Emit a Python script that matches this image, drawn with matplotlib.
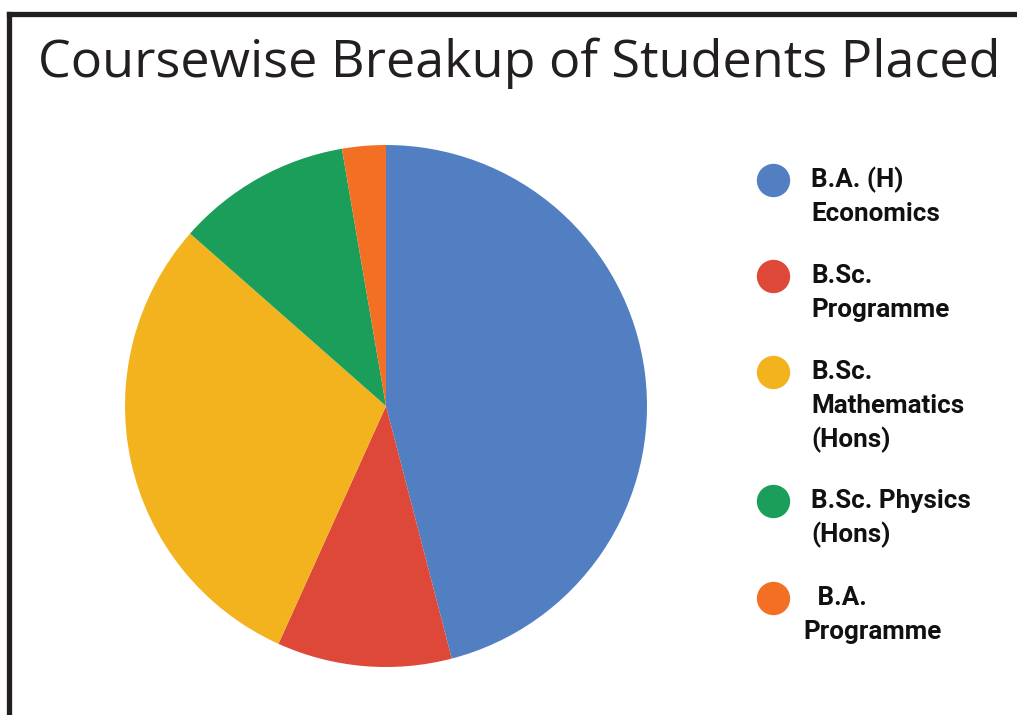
import matplotlib.pyplot as plt
from matplotlib.lines import Line2D

# Data
labels = ['B.A. (H)\nEconomics', 'B.Sc.\nProgramme', 'B.Sc.\nMathematics\n(Hons)',
          'B.Sc. Physics\n(Hons)', ' B.A.\nProgramme']
students = [17, 4, 11, 4, 1]
colors = ['#527fc2', '#dd4838', '#f2b31f', '#1a9e5a', '#f36f24']

W, H = 1017, 715
fig = plt.figure(figsize=(W / 100, H / 100), dpi=100)

# frame lines on the left and top
fig.add_artist(Line2D([8.5 / W, 8.5 / W], [0, 1 - 13.5 / H], color='#231f20', lw=3.8,
                      solid_capstyle='projecting'))
fig.add_artist(Line2D([8.5 / W, 1], [1 - 13.5 / H, 1 - 13.5 / H], color='#231f20', lw=3.8,
                      solid_capstyle='projecting'))

fig.text(519 / W, 1 - 63 / H, 'Coursewise Breakup of Students Placed',
         ha='center', va='center', fontsize=37.5, family='Open Sans', color='#231f20')

# pie
cx, cy, r = 386, 406, 261
ax = fig.add_axes([(cx - r) / W, (H - cy - r) / H, 2 * r / W, 2 * r / H])
ax.pie(students, colors=colors, startangle=90, counterclock=False, radius=1,
       wedgeprops=dict(linewidth=0))
ax.set_xlim(-1, 1)
ax.set_ylim(-1, 1)
ax.set_aspect('equal')
ax.axis('off')

# legend drawn by hand
leg_y = [180, 276, 372, 501, 598]
line_h = 34
for lab, col, y in zip(labels, colors, leg_y):
    fig.add_artist(Line2D([773 / W], [1 - y / H], marker='o', markersize=23,
                          color=col, linestyle='none'))
    for i, part in enumerate(lab.split('\n')):
        x = 811 if not (part == 'Programme' and lab.startswith(' ')) else 803
        fig.text(x / W, 1 - (y + i * line_h) / H, part, ha='left', va='center',
                 fontsize=18.7, family='Roboto', weight='bold', color='#111111')

fig.savefig('out.png', dpi=100)
